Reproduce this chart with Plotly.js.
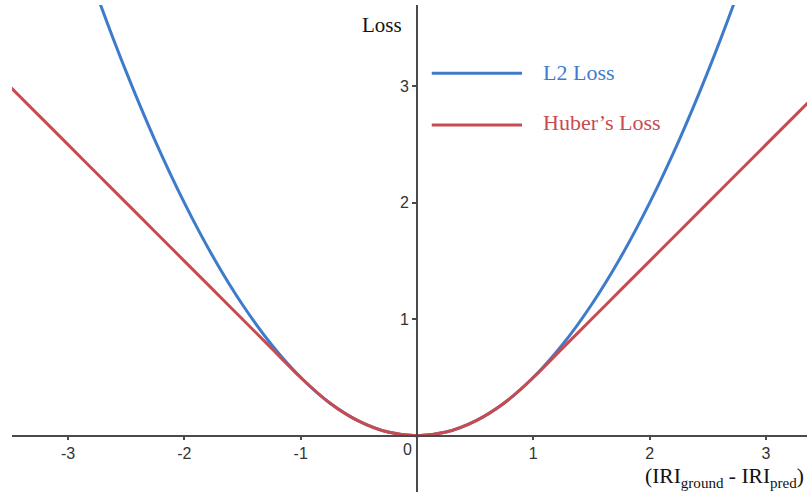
<!DOCTYPE html>
<html>
<head>
<meta charset="utf-8">
<script src="https://cdn.plot.ly/plotly-3.0.1.min.js"></script>
<style>
  html, body { margin: 0; padding: 0; background: #ffffff; }
  #chart { width: 807px; height: 494px; }
</style>
</head>
<body>
<div id="chart"></div>
<script>
// Prediction error (IRI_ground - IRI_pred)
const errorValues = [
  -3.5, -3.25, -3.0, -2.75, -2.5, -2.25, -2.0, -1.75, -1.5, -1.25,
  -1.0, -0.75, -0.5, -0.25, 0.0, 0.25, 0.5, 0.75, 1.0, 1.25,
  1.5, 1.75, 2.0, 2.25, 2.5, 2.75, 3.0, 3.25, 3.5
];

// Squared-error loss at each error value
const l2Loss = [
  6.125, 5.281, 4.5, 3.781, 3.125, 2.531, 2.0, 1.531, 1.125, 0.781,
  0.5, 0.281, 0.125, 0.031, 0.0, 0.031, 0.125, 0.281, 0.5, 0.781,
  1.125, 1.531, 2.0, 2.531, 3.125, 3.781, 4.5, 5.281, 6.125
];

// Huber loss (delta = 1) at each error value
const huberLoss = [
  3.0, 2.75, 2.5, 2.25, 2.0, 1.75, 1.5, 1.25, 1.0, 0.75,
  0.5, 0.281, 0.125, 0.031, 0.0, 0.031, 0.125, 0.281, 0.5, 0.75,
  1.0, 1.25, 1.5, 1.75, 2.0, 2.25, 2.5, 2.75, 3.0
];

const xTickVals = [-3, -2, -1, 1, 2, 3];
const xTickText = ['-3', '-2', '-1', '1', '2', '3'];
const yTickVals = [1, 2, 3];
const yTickText = ['1', '2', '3'];

const seriesNames = ['L2 Loss', 'Huber\u2019s Loss'];
const seriesColors = ['#3f7bcb', '#c84b50'];

const serif = 'Liberation Serif, Times New Roman, serif';
const sans = 'Liberation Sans, Arial, sans-serif';

const xRange = [-3.482, 3.353];
const yRange = [-0.484, 3.70];

const traces = [
  {
    x: errorValues, y: l2Loss, type: 'scatter', mode: 'lines',
    name: seriesNames[0],
    line: { color: seriesColors[0], width: 3, shape: 'spline', smoothing: 1 },
    hoverinfo: 'skip'
  },
  {
    x: errorValues, y: huberLoss, type: 'scatter', mode: 'lines',
    name: seriesNames[1],
    line: { color: seriesColors[1], width: 3, shape: 'spline', smoothing: 1 },
    hoverinfo: 'skip'
  }
];

const axisLine = '#4a4a4a';
const tickFont = { family: sans, size: 16, color: '#333333' };

// axes cross at the origin: position them inside the plot area
const xPos = (0 - yRange[0]) / (yRange[1] - yRange[0]);
const yPos = (0 - xRange[0]) / (xRange[1] - xRange[0]);

const layout = {
  width: 807, height: 494,
  margin: { l: 12, r: 0, t: 5, b: 2 },
  paper_bgcolor: '#ffffff',
  plot_bgcolor: '#ffffff',
  showlegend: false,
  xaxis: {
    range: xRange, showgrid: false, zeroline: false,
    showline: true, linecolor: axisLine, linewidth: 2,
    anchor: 'free', position: xPos,
    ticks: 'outside', ticklen: 3, tickwidth: 2, tickcolor: axisLine,
    tickvals: xTickVals, ticktext: xTickText, tickfont: tickFont
  },
  xaxis2: {
    range: xRange, overlaying: 'x', matches: 'x', showgrid: false, zeroline: false,
    showline: false, anchor: 'free', position: xPos,
    ticks: 'inside', ticklen: 3, tickwidth: 2, tickcolor: axisLine,
    tickvals: xTickVals, showticklabels: false
  },
  yaxis: {
    range: yRange, showgrid: false, zeroline: false,
    showline: true, linecolor: axisLine, linewidth: 2,
    anchor: 'free', position: yPos,
    ticks: 'outside', ticklen: 4, tickwidth: 2, tickcolor: axisLine,
    tickvals: yTickVals, ticktext: yTickText, tickfont: tickFont
  },
  yaxis2: {
    range: yRange, overlaying: 'y', matches: 'y', showgrid: false, zeroline: false,
    showline: false, anchor: 'free', position: yPos, side: 'right',
    ticks: 'inside', ticklen: 4, tickwidth: 2, tickcolor: axisLine,
    tickvals: yTickVals, showticklabels: false
  },
  shapes: [
    { type: 'line', xref: 'paper', yref: 'paper', x0: 0.528, x1: 0.6415, y0: 0.860, y1: 0.860,
      line: { color: seriesColors[0], width: 3 } },
    { type: 'line', xref: 'paper', yref: 'paper', x0: 0.528, x1: 0.6415, y0: 0.7536, y1: 0.7536,
      line: { color: seriesColors[1], width: 3 } }
  ],
  annotations: [
    { text: seriesNames[0], xref: 'paper', yref: 'paper', x: 0.665, y: 0.862,
      xanchor: 'left', yanchor: 'middle', showarrow: false,
      font: { family: serif, size: 22, color: seriesColors[0] } },
    { text: seriesNames[1], xref: 'paper', yref: 'paper', x: 0.665, y: 0.758,
      xanchor: 'left', yanchor: 'middle', showarrow: false,
      font: { family: serif, size: 22, color: seriesColors[1] } },
    { text: 'Loss', xref: 'paper', yref: 'paper', x: 0.4654, y: 0.959,
      xanchor: 'center', yanchor: 'middle', showarrow: false,
      font: { family: serif, size: 21, color: '#111111' } },
    { text: '(IRI<sub>ground</sub> - IRI<sub>pred</sub>)', xref: 'paper', yref: 'paper',
      x: 0.999, y: 0.03, xanchor: 'right', yanchor: 'middle', showarrow: false,
      font: { family: serif, size: 21.5, color: '#111111' } },
    { text: '0', x: 0, y: 0, xref: 'x', yref: 'y', showarrow: false,
      xanchor: 'center', yanchor: 'middle', xshift: -10, yshift: -14,
      font: tickFont }
  ]
};

Plotly.newPlot('chart', traces, layout, { staticPlot: true, displayModeBar: false });
</script>
</body>
</html>
